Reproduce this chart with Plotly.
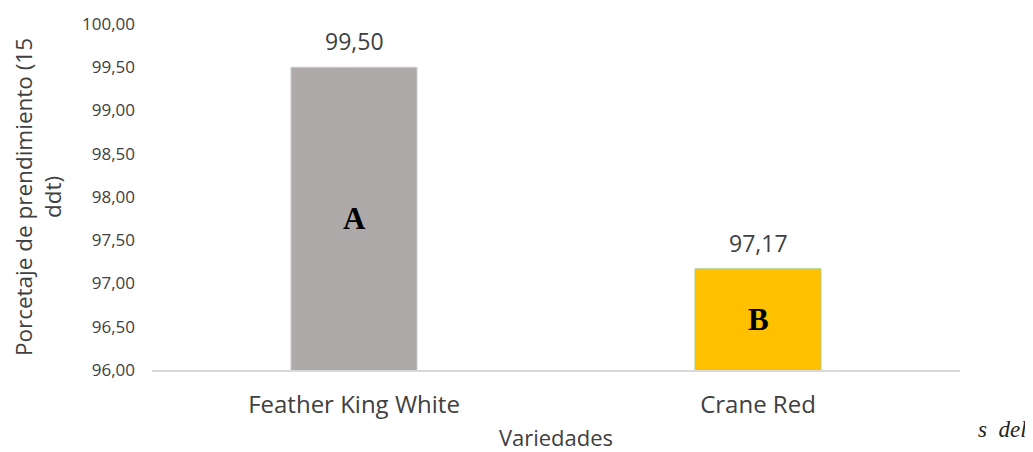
import plotly.graph_objects as go

variedades = ["Feather King White", "Crane Red"]
prendimiento = [99.50, 97.17]
letras = ["A", "B"]
colores = ["#AEAAAA", "#FFC000"]
bordes = ["#D0CECE", "#A9D18E"]
y_min, y_max = 96.0, 100.0

fuente = "Open Sans, Noto Sans, sans-serif"
gris = "#404040"

fig = go.Figure()
fig.add_trace(go.Bar(
    x=variedades, y=prendimiento,
    width=0.312,
    marker=dict(color=colores, line=dict(color=bordes, width=1)),
    hoverinfo="x+y",
))

# etiquetas de valor sobre las barras y letras de significancia en el centro
for v, val, letra in zip(variedades, prendimiento, letras):
    fig.add_annotation(x=v, y=val, yanchor="bottom", yshift=8,
                       text=f"{val:.2f}".replace(".", ","), showarrow=False,
                       font=dict(family=fuente, size=23, color=gris))
    fig.add_annotation(x=v, y=(y_min + val) / 2, text="<b>" + letra + "</b>",
                       showarrow=False,
                       font=dict(family="Liberation Serif, Times New Roman, serif", size=31, color="#000000"))

# resto de texto del documento original que asoma a la derecha
fig.add_annotation(x=1.085, y=-0.215, xref="paper", yref="paper", xanchor="right",
                   text="<i>s  del</i>", showarrow=False,
                   font=dict(family="Liberation Serif, serif", size=23, color="#222222"))

fig.update_layout(
    width=1033, height=452,
    margin=dict(l=144, r=81, t=16, b=90, autoexpand=False),
    paper_bgcolor="white", plot_bgcolor="white",
    separators=",.",
    showlegend=False,
    font=dict(family=fuente, color=gris),
)
fig.update_xaxes(
    showline=True, linecolor="#D9D9D9", linewidth=1.5,
    ticks="", ticklabelstandoff=12, tickfont=dict(size=24, color=gris),
    title=dict(text="Variedades", font=dict(size=22, color=gris), standoff=12),
)
fig.update_yaxes(
    range=[y_min, y_max], dtick=0.5, tickformat=".2f",
    showgrid=False, zeroline=False, showline=False, ticks="",
    ticklabelstandoff=16, tickfont=dict(size=17, color=gris),
    title=dict(text="Porcetaje de prendimiento (15<br>ddt)", font=dict(size=22.5, color=gris), standoff=14),
)

fig.write_html("out.html")
